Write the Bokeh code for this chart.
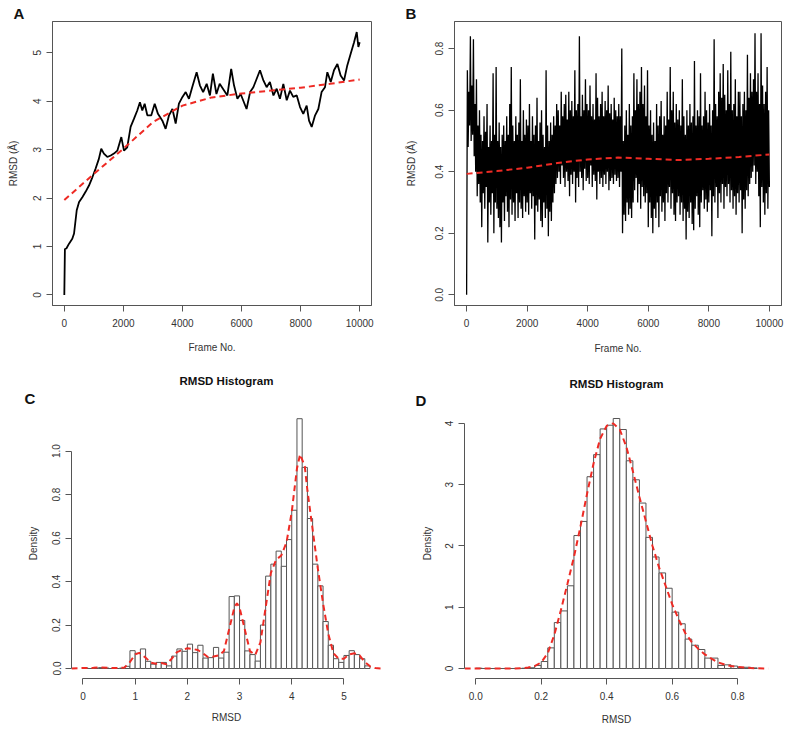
import numpy as np
from bokeh.plotting import figure
from bokeh.layouts import column, row
from bokeh.models import Range1d, Title, PrintfTickFormatter
from bokeh.embed import file_html
from bokeh.resources import INLINE

# --- panel A: RMSD trace (Frame No. vs RMSD) ---
frames_a = [0, 20, 70, 160, 270, 330, 420, 500, 610, 720,
            835, 950, 1060, 1170, 1250, 1340, 1456, 1570, 1680, 1795,
            1930, 2020, 2130, 2245, 2360, 2470, 2560, 2640, 2720, 2810,
            2945, 3060, 3170, 3320, 3430, 3545, 3660, 3770, 3880, 4000,
            4110, 4220, 4330, 4480, 4590, 4700, 4820, 4930, 5030, 5150,
            5260, 5370, 5520, 5650, 5745, 5860, 5970, 6080, 6170, 6290,
            6400, 6510, 6625, 6740, 6850, 6960, 7080, 7190, 7300, 7415,
            7530, 7640, 7750, 7870, 7980, 8090, 8205, 8285, 8375, 8490,
            8600, 8710, 8825, 8905, 9020, 9130, 9245, 9355, 9470, 9580,
            9695, 9810, 9900, 9955, 10000]
rmsd_a = [0.00, 0.95, 0.96, 1.06, 1.16, 1.27, 1.75, 1.92, 2.02, 2.13,
          2.26, 2.43, 2.61, 2.81, 3.02, 2.92, 2.85, 2.88, 2.92, 2.98,
          3.26, 2.98, 3.05, 3.47, 3.64, 3.81, 3.98, 3.81, 3.95, 3.71,
          3.71, 3.95, 3.74, 3.60, 3.43, 3.71, 3.84, 3.54, 3.95, 4.09,
          4.19, 4.05, 4.29, 4.60, 4.33, 4.19, 4.36, 4.12, 4.57, 4.15,
          4.36, 4.26, 4.12, 4.67, 4.33, 4.05, 4.15, 3.98, 3.84, 4.19,
          4.29, 4.46, 4.64, 4.43, 4.29, 4.40, 4.12, 4.26, 4.05, 4.36,
          4.02, 4.22, 4.09, 4.12, 3.88, 3.74, 3.91, 3.60, 3.47, 3.71,
          3.84, 4.19, 4.29, 4.60, 4.40, 4.64, 4.77, 4.53, 4.43, 4.74,
          4.98, 5.22, 5.43, 5.12, 5.22]
fit_frames = [0, 1000, 2000, 3000, 4000, 5000, 6000, 7000, 8000, 9000, 10000]
fit_a = [1.96, 2.50, 3.02, 3.57, 3.91, 4.08, 4.16, 4.22, 4.28, 4.36, 4.45]

# --- panel B: RMSD trace, one value every 25 frames (20 per row = 500 frames) ---
rmsd_b = [
    0.00, 0.73, 0.48, 0.66, 0.55, 0.84, 0.50, 0.68, 0.52, 0.83, 0.45, 0.62, 0.40, 0.70, 0.32, 0.55, 0.36, 0.60, 0.30, 0.52,
    0.22, 0.50, 0.33, 0.58, 0.28, 0.53, 0.35, 0.62, 0.17, 0.48, 0.30, 0.55, 0.26, 0.50, 0.33, 0.72, 0.20, 0.52, 0.30, 0.74,
    0.28, 0.50, 0.25, 0.56, 0.22, 0.48, 0.17, 0.52, 0.30, 0.55, 0.24, 0.50, 0.32, 0.58, 0.27, 0.52, 0.22, 0.62, 0.31, 0.74,
    0.26, 0.55, 0.30, 0.50, 0.24, 0.58, 0.33, 0.52, 0.25, 0.56, 0.30, 0.70, 0.28, 0.50, 0.25, 0.60, 0.32, 0.52, 0.27, 0.57,
    0.30, 0.55, 0.26, 0.62, 0.33, 0.50, 0.28, 0.58, 0.32, 0.52, 0.18, 0.55, 0.29, 0.64, 0.27, 0.50, 0.31, 0.56, 0.24, 0.60,
    0.22, 0.52, 0.30, 0.48, 0.25, 0.73, 0.28, 0.55, 0.19, 0.50, 0.27, 0.56, 0.24, 0.52, 0.30, 0.58, 0.33, 0.55, 0.36, 0.62,
    0.38, 0.60, 0.40, 0.55, 0.36, 0.66, 0.42, 0.58, 0.38, 0.62, 0.35, 0.65, 0.40, 0.57, 0.37, 0.66, 0.32, 0.60, 0.39, 0.63,
    0.36, 0.58, 0.40, 0.73, 0.30, 0.60, 0.38, 0.62, 0.35, 0.84, 0.40, 0.58, 0.38, 0.65, 0.34, 0.60, 0.41, 0.70, 0.37, 0.62,
    0.38, 0.60, 0.36, 0.68, 0.42, 0.58, 0.35, 0.62, 0.39, 0.57, 0.37, 0.72, 0.31, 0.64, 0.40, 0.58, 0.36, 0.62, 0.38, 0.66,
    0.35, 0.58, 0.39, 0.63, 0.36, 0.60, 0.40, 0.68, 0.34, 0.59, 0.37, 0.62, 0.38, 0.57, 0.36, 0.64, 0.39, 0.60, 0.37, 0.58,
    0.38, 0.62, 0.35, 0.58, 0.40, 0.80, 0.20, 0.50, 0.26, 0.55, 0.24, 0.60, 0.30, 0.52, 0.26, 0.62, 0.28, 0.55, 0.25, 0.58,
    0.30, 0.72, 0.34, 0.60, 0.38, 0.70, 0.30, 0.62, 0.36, 0.66, 0.28, 0.74, 0.35, 0.62, 0.32, 0.68, 0.30, 0.58, 0.33, 0.73,
    0.22, 0.55, 0.30, 0.60, 0.25, 0.52, 0.20, 0.56, 0.28, 0.50, 0.25, 0.62, 0.30, 0.55, 0.22, 0.58, 0.32, 0.63, 0.27, 0.52,
    0.30, 0.58, 0.24, 0.55, 0.33, 0.66, 0.30, 0.57, 0.35, 0.74, 0.28, 0.60, 0.33, 0.66, 0.26, 0.56, 0.24, 0.62, 0.30, 0.57,
    0.32, 0.60, 0.26, 0.55, 0.30, 0.70, 0.24, 0.58, 0.28, 0.52, 0.18, 0.60, 0.27, 0.55, 0.25, 0.62, 0.30, 0.56, 0.23, 0.58,
    0.21, 0.76, 0.28, 0.55, 0.32, 0.60, 0.26, 0.58, 0.22, 0.72, 0.30, 0.55, 0.34, 0.58, 0.28, 0.66, 0.31, 0.60, 0.27, 0.56,
    0.30, 0.62, 0.34, 0.55, 0.19, 0.60, 0.32, 0.83, 0.30, 0.62, 0.35, 0.58, 0.25, 0.66, 0.33, 0.72, 0.30, 0.64, 0.36, 0.75,
    0.28, 0.65, 0.35, 0.60, 0.32, 0.73, 0.36, 0.62, 0.30, 0.79, 0.34, 0.60, 0.28, 0.62, 0.32, 0.70, 0.26, 0.58, 0.33, 0.66,
    0.30, 0.66, 0.34, 0.58, 0.20, 0.62, 0.31, 0.66, 0.28, 0.60, 0.34, 0.78, 0.32, 0.64, 0.36, 0.72, 0.38, 0.66, 0.40, 0.70,
    0.42, 0.85, 0.36, 0.66, 0.40, 0.72, 0.32, 0.62, 0.22, 0.85, 0.35, 0.68, 0.30, 0.62, 0.26, 0.66, 0.33, 0.74, 0.28, 0.60,
    0.35]
frames_b = np.arange(len(rmsd_b)) * 25
fit_b = [0.393, 0.402, 0.413, 0.428, 0.440, 0.446, 0.442, 0.438, 0.442, 0.448, 0.456]

# --- panel C: histogram (bin width 0.1 from 0) + density ---
dens_c = [0.002, 0.0, 0.002, 0.004, 0.002, 0.0, 0.0, 0.002,
          0.010, 0.082, 0.070, 0.090, 0.033, 0.020, 0.028, 0.028, 0.012, 0.057,
          0.090, 0.079, 0.112, 0.073, 0.107, 0.048, 0.050, 0.097, 0.048, 0.075,
          0.331, 0.334, 0.221, 0.081, 0.064, 0.034, 0.200, 0.425, 0.480, 0.540,
          0.470, 0.593, 0.728, 1.149, 0.925, 0.690, 0.480, 0.380, 0.216, 0.107,
          0.045, 0.028, 0.060, 0.082, 0.064, 0.045, 0.012]
kde_x_c = [-0.22, 0.0, 0.2, 0.35, 0.5, 0.7, 0.8, 0.9, 1.0, 1.08,
           1.2, 1.3, 1.4, 1.5, 1.6, 1.7, 1.8, 1.9, 2.0, 2.1,
           2.2, 2.3, 2.4, 2.5, 2.6, 2.7, 2.8, 2.9, 2.95, 3.0,
           3.1, 3.2, 3.3, 3.4, 3.5, 3.6, 3.7, 3.8, 3.9, 4.0,
           4.1, 4.16, 4.25, 4.3, 4.4, 4.5, 4.6, 4.7, 4.8, 4.9,
           5.0, 5.1, 5.2, 5.3, 5.4, 5.5, 5.6, 5.72]
kde_y_c = [0.0, 0.002, 0.003, 0.005, 0.003, 0.002, 0.005, 0.03, 0.065, 0.072,
           0.05, 0.027, 0.022, 0.025, 0.02, 0.045, 0.075, 0.085, 0.093, 0.09,
           0.085, 0.07, 0.052, 0.055, 0.06, 0.08, 0.18, 0.28, 0.30, 0.28,
           0.18, 0.08, 0.062, 0.12, 0.28, 0.44, 0.50, 0.52, 0.58, 0.72,
           0.92, 0.985, 0.93, 0.82, 0.64, 0.46, 0.30, 0.16, 0.07, 0.045,
           0.045, 0.065, 0.07, 0.06, 0.03, 0.01, 0.002, 0.0]

# --- panel D: histogram (bin width 0.02 from 0) + density ---
dens_d = [0.005, 0.0, 0.0, 0.0, 0.0, 0.0, 0.0, 0.005, 0.012, 0.05,
          0.114, 0.337, 0.75, 0.94, 1.35, 2.17, 2.40, 3.13, 3.49, 3.91,
          3.97, 4.08, 3.90, 3.39, 3.08, 2.70, 2.14, 1.82, 1.56, 1.31,
          0.92, 0.73, 0.48, 0.38, 0.31, 0.17, 0.17, 0.05, 0.06, 0.04,
          0.02, 0.02, 0.01]
kde_x_d = [-0.034, 0.0, 0.04, 0.08, 0.12, 0.14, 0.16, 0.18, 0.20, 0.22,
           0.24, 0.26, 0.28, 0.30, 0.32, 0.34, 0.36, 0.38, 0.40, 0.42,
           0.44, 0.46, 0.48, 0.50, 0.52, 0.54, 0.56, 0.58, 0.60, 0.62,
           0.64, 0.66, 0.68, 0.70, 0.72, 0.74, 0.76, 0.78, 0.80, 0.82,
           0.84, 0.86, 0.894]
kde_y_d = [0.0, 0.0, 0.0, 0.0, 0.0, 0.005, 0.015, 0.04, 0.1, 0.25,
           0.55, 0.95, 1.38, 1.82, 2.32, 2.85, 3.35, 3.75, 3.96, 4.0,
           3.9, 3.62, 3.22, 2.8, 2.4, 2.0, 1.65, 1.35, 1.05, 0.8,
           0.58, 0.43, 0.32, 0.23, 0.16, 0.1, 0.065, 0.04, 0.025, 0.015,
           0.008, 0.003, 0.0]

FONT = "Liberation Sans"
LINE = "#555555"
RED = "#ee2a24"


def make_fig(origin, size, box, rng, xlabel, ylabel, xstand, ystand, outline=True):
    ox, oy = origin
    w, h = size
    fl, ft, fr, fb = box
    x0, x1, y0, y1 = rng
    p = figure(width=w, height=h, x_range=Range1d(x0, x1), y_range=Range1d(y0, y1),
               min_border_left=fl - ox, min_border_right=ox + w - fr,
               min_border_top=ft - oy, min_border_bottom=oy + h - fb,
               title=None, toolbar_location=None, tools="", output_backend="svg")
    p.grid.visible = False
    p.outline_line_color = LINE if outline else None
    p.background_fill_color = "white"
    p.border_fill_color = "white"
    for ax in (p.xaxis[0], p.yaxis[0]):
        ax.axis_line_color = LINE
        ax.major_tick_line_color = LINE
        ax.major_tick_out = 6
        ax.major_tick_in = 0
        ax.minor_tick_line_color = None
        ax.major_label_text_font = FONT
        ax.major_label_text_font_size = "10px"
        ax.major_label_text_color = "#333333"
        ax.major_label_standoff = 5
        ax.axis_label_text_font = FONT
        ax.axis_label_text_font_size = "10px"
        ax.axis_label_text_font_style = "normal"
        ax.axis_label_text_color = "#333333"
    p.xaxis.major_label_standoff = 7
    p.xaxis.axis_label = xlabel
    p.yaxis.axis_label = ylabel
    p.xaxis.axis_label_standoff = xstand
    p.yaxis.axis_label_standoff = ystand
    p.yaxis.major_label_orientation = "vertical"
    return p


def title(p, text, size, align="center", offset=0, standoff=0):
    p.add_layout(Title(text=text, align=align, offset=offset, standoff=standoff,
                       text_font=FONT, text_font_size=size, text_font_style="bold",
                       text_color="#111111"), "above")


# panel A
pa = make_fig((0, 0), (394, 370), (52, 21, 371, 305), (-400, 10400, -0.217, 5.647),
              "Frame No.", "RMSD (Å)", 12, 12)
pa.line(frames_a, rmsd_a, line_color="black", line_width=1.8)
pa.line(fit_frames, fit_a, line_color=RED, line_width=2, line_dash="6 4")
pa.xaxis.ticker = [0, 2000, 4000, 6000, 8000, 10000]
pa.xaxis.formatter = PrintfTickFormatter(format="%d")
pa.yaxis.ticker = [0, 1, 2, 3, 4, 5]
pa.yaxis.formatter = PrintfTickFormatter(format="%d")
title(pa, "A", "15px", align="left", offset=-39)

# panel B
pb = make_fig((394, 0), (392, 370), (454, 17, 781, 310), (-400, 10400, -0.0346, 0.888),
              "Frame No.", "RMSD (Å)", 13, 16)
pb.line(frames_b, rmsd_b, line_color="black", line_width=1.3)
pb.line(fit_frames, fit_b, line_color=RED, line_width=2, line_dash="6 4")
pb.xaxis.ticker = [0, 2000, 4000, 6000, 8000, 10000]
pb.xaxis.formatter = PrintfTickFormatter(format="%d")
pb.yaxis.ticker = [0.0, 0.2, 0.4, 0.6, 0.8]
pb.yaxis.formatter = PrintfTickFormatter(format="%.1f")
title(pb, "B", "15px", align="left", offset=-49)

# panel C
edges_c = np.arange(len(dens_c) + 1) * 0.1
pc = make_fig((0, 370), (394, 357), (71, 405, 381, 682), (-0.22, 5.72, -0.046, 1.196),
              "RMSD", "Density", 9, 11, outline=False)
pc.quad(left=edges_c[:-1], right=edges_c[1:], bottom=0, top=dens_c,
        fill_color="white", line_color=LINE, line_width=1)
pc.line(kde_x_c, kde_y_c, line_color=RED, line_width=2, line_dash="6 4")
pc.xaxis.ticker = [0, 1, 2, 3, 4, 5]
pc.xaxis.formatter = PrintfTickFormatter(format="%d")
pc.xaxis.bounds = (0, 5)
pc.yaxis.ticker = [0.0, 0.2, 0.4, 0.6, 0.8, 1.0]
pc.yaxis.formatter = PrintfTickFormatter(format="%.1f")
pc.yaxis.bounds = (0, 1.0)
title(pc, "C", "15px", align="left", offset=-47, standoff=3)
title(pc, "RMSD Histogram", "11.5px")

# panel D
edges_d = np.arange(len(dens_d) + 1) * 0.02
pd_ = make_fig((394, 370), (392, 357), (464, 408, 768, 679), (-0.0344, 0.8944, -0.163, 4.243),
               "RMSD", "Density", 11, 10, outline=False)
pd_.quad(left=edges_d[:-1], right=edges_d[1:], bottom=0, top=dens_d,
         fill_color="white", line_color=LINE, line_width=1)
pd_.line(kde_x_d, kde_y_d, line_color=RED, line_width=2, line_dash="6 4")
pd_.xaxis.ticker = [0.0, 0.2, 0.4, 0.6, 0.8]
pd_.xaxis.formatter = PrintfTickFormatter(format="%.1f")
pd_.xaxis.bounds = (0, 0.8)
pd_.yaxis.ticker = [0, 1, 2, 3, 4]
pd_.yaxis.formatter = PrintfTickFormatter(format="%d")
pd_.yaxis.bounds = (0, 4)
title(pd_, "D", "15px", align="left", offset=-49)
title(pd_, "RMSD Histogram", "11.5px")

layout = column(row(pa, pb), row(pc, pd_))
open("out.html", "w").write(file_html(layout, INLINE))
